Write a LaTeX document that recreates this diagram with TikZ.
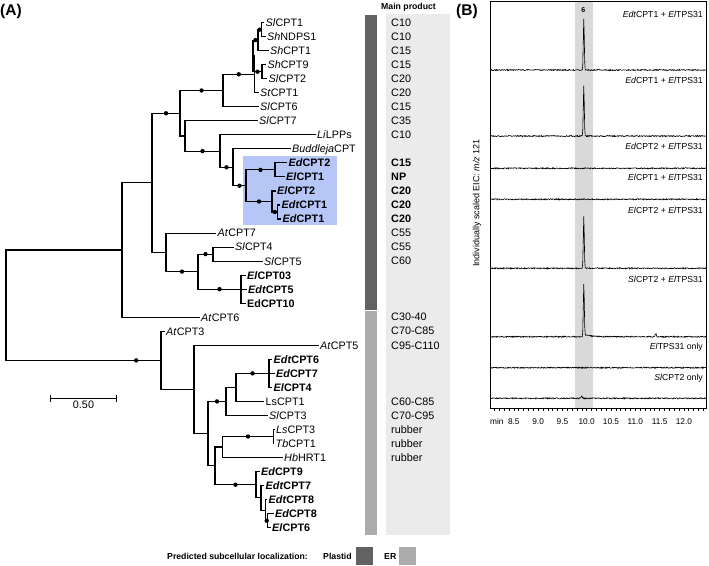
\documentclass[tikz,border=0pt]{standalone}
\usepackage{fontspec}
\setmainfont{Liberation Sans}
\usepackage{tikz}
\usetikzlibrary{positioning,calc}

\definecolor{plastid}{RGB}{98,98,98}
\definecolor{erbar}{RGB}{172,172,172}
\definecolor{prodbg}{RGB}{235,235,235}
\definecolor{cladebg}{RGB}{181,198,247}
\definecolor{peakbg}{RGB}{217,217,217}

\begin{document}
\begin{tikzpicture}[x=1pt, y=-1pt,
    br/.style={line width=1.1pt},
    boot/.style={circle, fill, inner sep=0pt, minimum size=4.4pt},
    leaf/.style={anchor=west, inner sep=1.5pt, text height=7.8pt, text depth=0pt, font=\fontsize{10.8}{12}\selectfont},
    prod/.style={anchor=west, inner sep=0pt, font=\fontsize{10.8}{12}\selectfont},
    lgd/.style={anchor=west, inner sep=0pt, font=\fontsize{8.7}{10}\selectfont\bfseries},
    panel/.style={anchor=west, inner sep=0pt, font=\fontsize{15.5}{17}\selectfont\bfseries},
    trace/.style={line width=0.6pt},
    tlab/.style={anchor=east, inner sep=0pt, font=\fontsize{8.7}{10}\selectfont},
    declare function={pk(\t)=exp(0-(min(abs(\t-9.94)/0.014,6))^2);
                      bp(\t,\c)=exp(0-(min(abs(\t-\c)/0.02,6))^2);}]
  \useasboundingbox (0,0) rectangle (709,565);

  % (A) tree
  \node[panel] (pa) at (0,11) {(A)};
  \fill[cladebg] (243,156) rectangle (337,225);
  \fill[plastid] (365,15) rectangle (377,309.5);
  \fill[erbar] (365,311) rectangle (377,534.5);
  \fill[prodbg] (386,14) rectangle (450,534.5);
  \node[lgd] (mp) at (381,7) {Main product};

  \foreach \i/\xx/\txt in {
    0/264/{\textit{Sl}CPT1}, 1/265.5/{\textit{Sh}NDPS1}, 2/268.5/{\textit{Sh}CPT1},
    3/266/{\textit{Sh}CPT9}, 4/267/{\textit{Sl}CPT2}, 5/258.5/{\textit{St}CPT1},
    6/258.5/{\textit{Sl}CPT6}, 7/257.5/{\textit{Sl}CPT7}, 8/315.5/{\textit{Li}LPPs},
    9/290.5/{\textit{Buddleja}CPT}, 10/287/{\bfseries\textit{Ed}CPT2},
    11/284.5/{\bfseries\textit{El}CPT1}, 12/275.5/{\bfseries\textit{El}CPT2},
    13/280/{\bfseries\textit{Edt}CPT1}, 14/281/{\bfseries\textit{Ed}CPT1},
    15/216/{\textit{At}CPT7}, 16/233.5/{\textit{Sl}CPT4}, 17/262.5/{\textit{Sl}CPT5},
    18/245.5/{\bfseries\textit{El}CPT03}, 19/246.5/{\bfseries\textit{Edt}CPT5},
    20/245.5/{\bfseries EdCPT10}, 21/199.5/{\textit{At}CPT6}, 22/164.5/{\textit{At}CPT3},
    23/318.5/{\textit{At}CPT5}, 24/272/{\bfseries\textit{Edt}CPT6},
    25/274.5/{\bfseries\textit{Ed}CPT7}, 26/272/{\bfseries\textit{El}CPT4},
    27/264/{LsCPT1}, 28/267.5/{\textit{Sl}CPT3}, 29/274.5/{\textit{Ls}CPT3},
    30/274/{\textit{Tb}CPT1}, 31/282.5/{\textit{Hb}HRT1}, 32/259.5/{\bfseries\textit{Ed}CPT9},
    33/264/{\bfseries\textit{Edt}CPT7}, 34/267/{\bfseries\textit{Edt}CPT8},
    35/273.5/{\bfseries\textit{Ed}CPT8}, 36/270.5/{\bfseries\textit{El}CPT6}}
    \node[leaf] (L\i) at (\xx,{22.6+14.03*\i}) {\txt};

  \foreach \i/\txt in {0/C10,1/C10,2/C15,3/C15,4/C20,5/C20,6/C15,7/C35,8/C10,
      10/\textbf{C15},11/\textbf{NP},12/\textbf{C20},13/\textbf{C20},14/\textbf{C20},
      15/C55,16/C55,17/C60,21/C30-40,22/C70-C85,23/C95-C110,
      27/C60-C85,28/C70-C95,29/rubber,30/rubber,31/rubber}
    \node[prod] (P\i) at (391,{22.6+14.03*\i}) {\txt};

  % internal nodes
  \coordinate (n1) at (261.5,29.6);
  \coordinate (n2) at (258,40.1);
  \coordinate (n3) at (262,71.7);
  \coordinate (m1) at (253,55.9);
  \coordinate (m2) at (254.5,74.3);
  \coordinate (b1) at (223,90.5);
  \coordinate (g1) at (275,169.9);
  \coordinate (k1) at (277.7,212);
  \coordinate (h1) at (272,201.5);
  \coordinate (f1) at (246,185.7);
  \coordinate (e1) at (233,167.3);
  \coordinate (d1) at (220,151.1);
  \coordinate (c1) at (185,136);
  \coordinate (a1) at (180,113.3);
  \coordinate (t1) at (213,254.1);
  \coordinate (w1) at (241,289.17);
  \coordinate (s1) at (198,271.6);
  \coordinate (q1) at (166,252.3);
  \coordinate (p1) at (152,182.8);
  \coordinate (u) at (122,250);
  \coordinate (z4) at (269,373.35);
  \coordinate (z3) at (236,387.4);
  \coordinate (z1) at (226,401.4);
  \coordinate (z7) at (273.3,436.5);
  \coordinate (z5) at (222.7,447);
  \coordinate (z10) at (267.7,520.7);
  \coordinate (z9) at (265.7,510.2);
  \coordinate (z8) at (261,497.9);
  \coordinate (z6) at (256,484.7);
  \coordinate (z2) at (215,465.9);
  \coordinate (y1) at (208,433.7);
  \coordinate (x1) at (194,389.5);
  \coordinate (l) at (161,360.4);
  \coordinate (root) at (6,305.2);

  % plastid part
  \draw[br] (n1) |- (L0.west) (n1) |- (L1.west);
  \draw[br] (n2) |- (n1) node[boot,pos=.75]{} (n2) |- (L2.west);
  \draw[br] (n3) |- (L3.west) (n3) |- (L4.west);
  \draw[br] (m1) |- (n2) node[boot,pos=.75]{} (m1) |- (n3) node[boot,pos=.75]{};
  \draw[br] (m2) |- (m1) (m2) |- (L5.west);
  \draw[br] (b1) |- (m2) node[boot,pos=.75]{} (b1) |- (L6.west);
  \draw[br] (a1) |- (b1) node[boot,pos=.75]{} (a1) |- (c1);
  \draw[br] (c1) |- (L7.west) (c1) |- (d1) node[boot,pos=.75]{};
  \draw[br] (d1) |- (L8.west) (d1) |- (e1) node[boot,pos=.75]{};
  \draw[br] (e1) |- (L9.west) (e1) |- (f1) node[boot,pos=.75]{};
  \draw[br] (f1) |- (g1) node[boot,pos=.75]{} (f1) |- (h1) node[boot,pos=.75]{};
  \draw[br] (g1) |- (L10.west) (g1) |- (L11.west);
  \draw[br] (h1) |- (L12.west) (h1) |- (k1) node[boot,pos=.75]{};
  \draw[br] (k1) |- (L13.west) (k1) |- (L14.west);
  \draw[br] (p1) |- (a1) node[boot,pos=.75]{} (p1) |- (q1);
  \draw[br] (q1) |- (L15.west) (q1) |- (s1) node[boot,pos=.75]{};
  \draw[br] (s1) |- (t1) node[boot,pos=.75]{} (s1) |- (w1) node[boot,pos=.75]{};
  \draw[br] (t1) |- (L16.west) (t1) |- (L17.west);
  \draw[br] (w1) |- (L18.west) (w1) |- (L19.west) (w1) |- (L20.west);
  \draw[br] (u) |- (p1) (u) |- (L21.west);
  \draw[br] (root) |- (u) (root) |- (l) node[boot,pos=.92]{};
  % ER part
  \draw[br] (l) |- (L22.west) (l) |- (x1);
  \draw[br] (x1) |- (L23.west) (x1) |- (y1);
  \draw[br] (y1) |- (z1) node[boot,pos=.75]{} (y1) |- (z2);
  \draw[br] (z1) |- (z3) (z1) |- (L28.west);
  \draw[br] (z3) |- (z4) node[boot,pos=.75]{} (z3) |- (L27.west);
  \draw[br] (z4) |- (L24.west) (z4) |- (L25.west) (z4) |- (L26.west);
  \draw[br] (z2) |- (z5) (z2) |- (z6) node[boot,pos=.75]{};
  \draw[br] (z5) |- (z7) node[boot,pos=.75]{} (z5) |- (L31.west);
  \draw[br] (z7) |- (L29.west) (z7) |- (L30.west);
  \draw[br] (z6) |- (L32.west) (z6) |- (z8);
  \draw[br] (z8) |- (L33.west) (z8) |- (z9);
  \draw[br] (z9) |- (L34.west) (z9) |- (z10) node[boot,pos=.75]{};
  \draw[br] (z10) |- (L35.west) (z10) |- (L36.west);

  % scale bar
  \coordinate (sbl) at (50,398);
  \coordinate (sbr) at (116.7,398);
  \draw[line width=0.9pt] (sbl) -- (sbr);
  \draw[line width=0.9pt] ([yshift=3.5pt]sbl) -- ([yshift=-3.5pt]sbl);
  \draw[line width=0.9pt] ([yshift=3.5pt]sbr) -- ([yshift=-3.5pt]sbr);
  \node[font=\fontsize{10.8}{12}\selectfont, inner sep=0pt] (sbt) at (83.5,405) {0.50};

  % legend
  \node[lgd] (loc) at (167,556) {Predicted subcellular localization:};
  \node[lgd] (plas) at (323,556) {Plastid};
  \fill[plastid] (356,547) rectangle (373,565);
  \node[lgd] (er) at (384,556) {ER};
  \fill[erbar] (399,547) rectangle (416,565);

  % (B) chromatograms
  \node[panel] (pb) at (456,11) {(B)};
  \node[rotate=90, inner sep=0pt, font=\fontsize{9}{10}\selectfont] (ylab) at (477,203)
    {Individually scaled EIC: \textit{m/z} 121};
  \pgfmathsetseed{42}
  \begin{scope}[xshift=100.7pt, x=48.6pt]
    \fill[peakbg] (9.76,1.5) rectangle (10.12,408.3);
    \foreach \b/\h/\tl/\bh/\bc in {70/52/0/0/11, 136/51/0/0/11, 168.3/0/0/0/11,
        199.3/0/0/0/11, 268.3/51.6/0/0/11, 336.7/53.4/2.5/3/11.42,
        367.7/0/0/0/11, 398.3/0/0/2/9.9}
      \draw[trace] plot[domain=8.02:12.46, samples=445]
        (\x, {\b - \h*pk(\x) - \tl*(\x>9.94)*exp(0-max(\x-9.94,0)/0.12) - \bh*bp(\x,\bc) + 0.6*rand});
    \draw[line width=0.9pt] (8.01,1.5) rectangle (12.47,408.3);
    \foreach \k in {81,...,124}
      \draw[line width=0.6pt] ({\k/10},408.3) -- ++(0,2.3);
    \foreach \t in {8.5,9.0,9.5,10.0,10.5,11.0,11.5,12.0}
      \node[inner sep=0pt, font=\fontsize{8.3}{10}\selectfont] at (\t,421.7) {\t};
    \node[font=\fontsize{7}{8}\selectfont\bfseries, inner sep=0pt] (pk6) at (9.93,10) {6};
  \end{scope}
  \node[anchor=west, inner sep=0pt, font=\fontsize{8.3}{10}\selectfont] (tmin) at (490,421.7) {min};

  \node[tlab] (r1) at (703,14) {\textit{Edt}CPT1 + \textit{El}TPS31};
  \node[tlab] (r2) at (703,80) {\textit{Ed}CPT1 + \textit{El}TPS31};
  \node[tlab] (r3) at (703,146.7) {\textit{Ed}CPT2 + \textit{El}TPS31};
  \node[tlab] (r4) at (703,177.7) {\textit{El}CPT1 + \textit{El}TPS31};
  \node[tlab] (r5) at (703,210) {\textit{El}CPT2 + \textit{El}TPS31};
  \node[tlab] (r6) at (703,279.3) {\textit{Sl}CPT2 + \textit{El}TPS31};
  \node[tlab] (r7) at (703,347.7) {\textit{El}TPS31 only};
  \node[tlab] (r8) at (703,378.3) {\textit{Sl}CPT2 only};
\end{tikzpicture}
\end{document}
